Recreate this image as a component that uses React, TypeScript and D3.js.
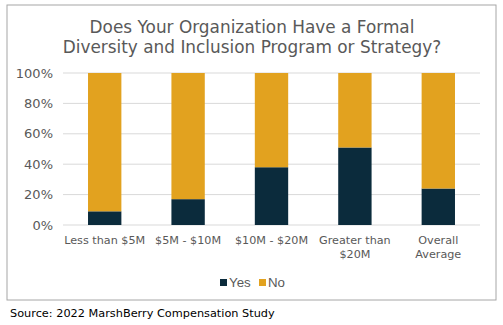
import React from "react";
import * as d3 from "d3";

const categories = [["Less than $5M"], ["$5M - $10M"], ["$10M - $20M"], ["Greater than", "$20M"], ["Overall", "Average"]];
const yesValues = [0.09, 0.17, 0.38, 0.51, 0.24];
const noValues = yesValues.map((v) => 1 - v);
const yTicks = [0, 0.2, 0.4, 0.6, 0.8, 1.0];
const seriesNames = ["Yes", "No"];
const titleLines = ["Does Your Organization Have a Formal", "Diversity and Inclusion Program or Strategy?"];
const sourceText = "Source: 2022 MarshBerry Compensation Study";

const W = 503, H = 325;
const NAVY = "#0B2B3C";
const GOLD = "#E2A21F";
const TEXT = "#595959";
const FONT = "'DejaVu Sans', Verdana, sans-serif";

export default function App() {
  const left = 63, right = 480, top = 73, bottom = 225;
  const x = d3.scaleBand<number>().domain(d3.range(categories.length)).range([left, right]).paddingInner(0.6).paddingOuter(0.3);
  const y = d3.scaleLinear().domain([0, 1]).range([bottom, top]);
  const stack = d3.stack<any>().keys(["yes", "no"])(categories.map((_, i) => ({ yes: yesValues[i], no: noValues[i] })));
  const colors = [NAVY, GOLD];
  const fmt = d3.format(".0%");
  return (
    <svg width={W} height={H} style={{ position: "absolute", left: 0, top: 0, background: "#fff" }}>
      <rect x={7} y={5} width={489} height={295} fill="#fff" stroke="#A6A6A6" strokeWidth={1} />
      {titleLines.map((t, i) => (
        <text key={i} x={252} y={32.5 + i * 20} textAnchor="middle" fontFamily={FONT} fontSize={16.9} fill={TEXT}>{t}</text>
      ))}
      {yTicks.map((t) => (
        <g key={t}>
          <line x1={left} x2={right} y1={y(t)} y2={y(t)} stroke="#D9D9D9" strokeWidth={1} />
          <text x={53} y={y(t) + 4.5} textAnchor="end" fontFamily={FONT} fontSize={13} fill={TEXT}>{fmt(t)}</text>
        </g>
      ))}
      {stack.map((s, si) =>
        s.map((d, i) => (
          <rect key={si + "-" + i} x={x(i)} y={y(d[1])} width={x.bandwidth()} height={y(d[0]) - y(d[1])} fill={colors[si]} />
        ))
      )}
      {categories.map((lines, i) =>
        lines.map((l, j) => (
          <text key={i + "-" + j} x={(x(i) as number) + x.bandwidth() / 2} y={244 + j * 14} textAnchor="middle" fontFamily={FONT} fontSize={11.2} fill={TEXT}>{l}</text>
        ))
      )}
      <g>
        <rect x={220} y={279} width={7} height={7} fill={NAVY} />
        <text x={229} y={287} fontFamily="'Liberation Sans', Arial, sans-serif" fontSize={13.3} fill={TEXT}>{seriesNames[0]}</text>
        <rect x={259} y={279} width={7} height={7} fill={GOLD} />
        <text x={268} y={287} fontFamily="'Liberation Sans', Arial, sans-serif" fontSize={13.3} fill={TEXT}>{seriesNames[1]}</text>
      </g>
      <text x={10} y={317} fontFamily={FONT} fontSize={11.3} fill="#000">{sourceText}</text>
    </svg>
  );
}
